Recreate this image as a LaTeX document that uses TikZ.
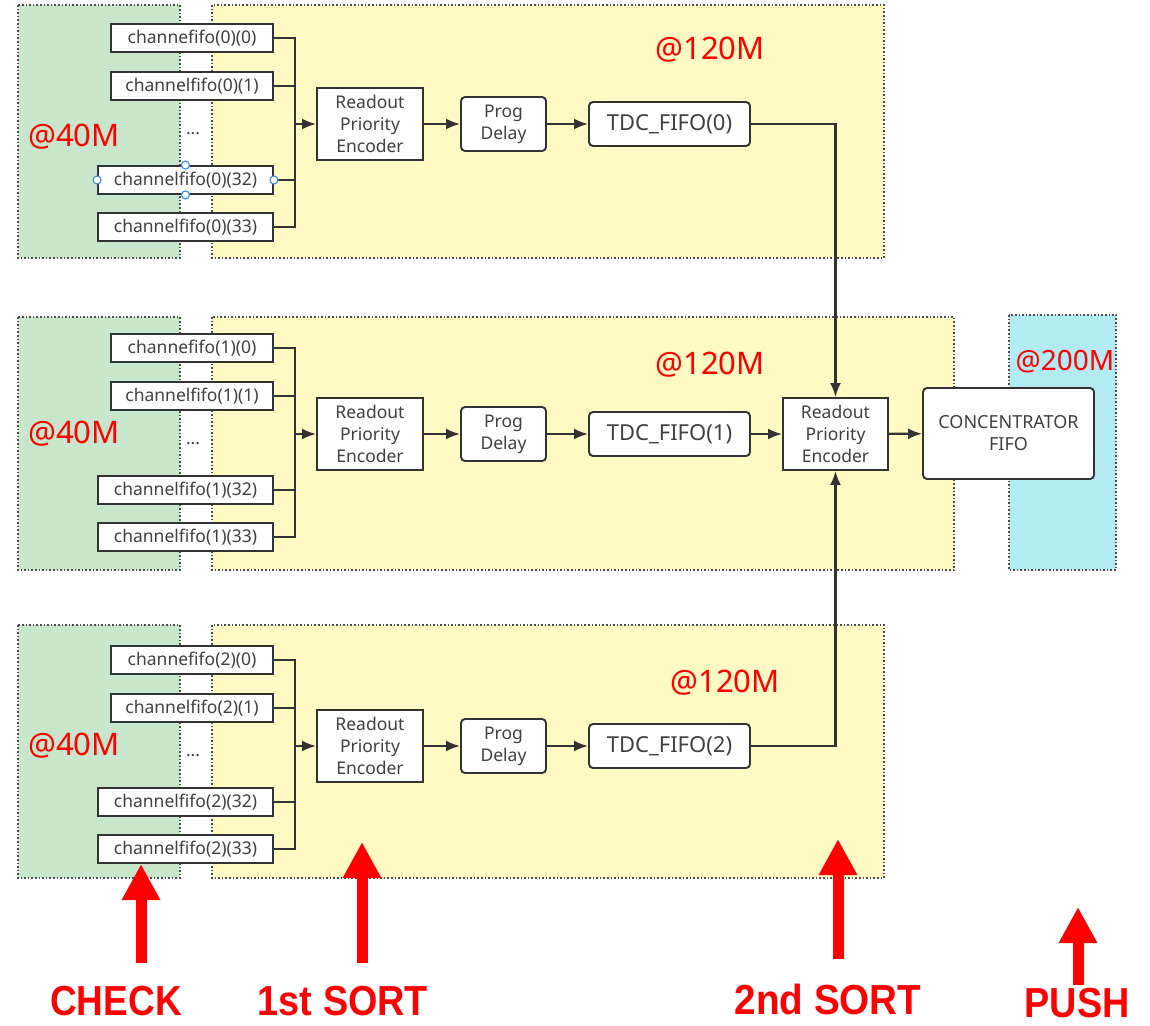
\documentclass[tikz,border=0pt]{standalone}
\usepackage{graphicx}
\usepackage{fontspec}
\setmainfont{Noto Sans}
\newfontfamily\redfont{Liberation Sans}
\usetikzlibrary{arrows.meta}
\definecolor{grn}{RGB}{200,230,203}
\definecolor{ylw}{RGB}{255,249,196}
\definecolor{cyn}{RGB}{178,235,242}
\definecolor{txt}{RGB}{64,64,64}
\definecolor{ln}{RGB}{51,51,51}
\definecolor{rd}{RGB}{255,0,0}
\definecolor{hdl}{RGB}{74,144,226}
\begin{document}
\begin{tikzpicture}[x=1pt,y=-1pt,
 zone/.style={draw=black!70, dotted, line width=1.6pt},
 chbox/.style={draw=ln, line width=1.9pt, fill=white, minimum height=28pt, inner sep=0pt, text=txt, font=\fontsize{17.5}{20}\selectfont},
 blk/.style={draw=ln, line width=1.9pt, fill=white, inner sep=0pt, text=txt, align=center, font=\fontsize{17.5}{22}\selectfont},
 rblk/.style={blk, rounded corners=4pt},
 conn/.style={draw=ln, line width=2.2pt},
 arr/.style={conn, -{Latex[length=14pt,width=11pt]}},
 freq/.style={text=rd, font=\fontsize{31}{31}\selectfont, inner sep=0pt},
 bigarr/.style={draw=rd, line width=11pt, -{Triangle[length=36pt,width=36pt]}},
 lbl/.style={text=rd, font=\redfont\bfseries\fontsize{42}{42}\selectfont, inner sep=0pt},
 handle/.style={circle, draw=hdl, fill=white, line width=1.2pt, minimum size=8pt, inner sep=0pt}
]
\useasboundingbox[fill=white] (0,0) rectangle (1150,1025);

% cyan zone
\filldraw[fill=cyn, zone] (1009,315) rectangle (1116,570);
\node[freq, font=\fontsize{28}{28}\selectfont] (f200) at (1065,362) {@200M};

\foreach \p/\c/\t/\b/\yr/\fx/\fy/\sy in {0/124/5/258/884/710/50/137, 1/434/317/570/954/710/365/434, 2/746/625/878/884/725/683/746} {
  \filldraw[fill=grn, zone] (18,\t) rectangle (180,\b);
  \filldraw[fill=ylw, zone] (212,\t) rectangle (\yr,\b);
  \node[freq] (s\p) at (74,\sy) {@40M};
  \node[freq] (f\p) at (\fx,\fy) {@120M};
  \node[chbox, minimum width=162pt] (c\p-0) at (192,{\c-86}) {channefifo(\p)(0)};
  \node[chbox, minimum width=162pt] (c\p-1) at (192,{\c-38}) {channelfifo(\p)(1)};
  \node[text=txt, anchor=base, inner sep=0pt, font=\fontsize{17}{20}\selectfont] (dots\p) at (193,{\c+10}) {...};
  \node[chbox, minimum width=175pt] (c\p-32) at (185.5,{\c+56}) {channelfifo(\p)(32)};
  \node[chbox, minimum width=175pt] (c\p-33) at (185.5,{\c+103}) {channelfifo(\p)(33)};
  \node[blk, minimum width=106pt, minimum height=72pt] (rpe\p) at (370,\c) {Readout\\Priority\\Encoder};
  \node[rblk, minimum width=85pt, minimum height=54pt] (pd\p) at (503.5,\c) {Prog\\Delay};
  \node[rblk, minimum width=161pt, minimum height=44pt, font=\fontsize{22}{24}\selectfont] (tdc\p) at (669.5,\c) {TDC\_FIFO(\p)};
  \coordinate (bus\p) at (295,\c);
  \draw[conn] (c\p-0.east) -| (bus\p) |- (c\p-33.east);
  \draw[conn] (c\p-1.east) -- (c\p-1.east -| bus\p);
  \draw[conn] (c\p-32.east) -- (c\p-32.east -| bus\p);
  \draw[arr] (bus\p) -- (rpe\p);
  \draw[arr] (rpe\p) -- (pd\p);
  \draw[arr] (pd\p) -- (tdc\p);
}

% selection handles
\node[handle] (h1) at (c0-32.west) {};
\node[handle] (h2) at (c0-32.east) {};
\node[handle] (h3) at (c0-32.north) {};
\node[handle] (h4) at (c0-32.south) {};

% second stage
\node[blk, minimum width=105pt, minimum height=72pt] (rpe) at (835.5,434) {Readout\\Priority\\Encoder};
\node[rblk, minimum width=171pt, minimum height=91pt, font=\fontsize{18}{22}\selectfont] (conc) at (1008.5,433.5) {CONCENTRATOR\\FIFO};
\draw[arr] (tdc0.east) -| (rpe.north);
\draw[arr] (tdc1) -- (rpe);
\draw[arr] (tdc2.east) -| (rpe.south);
\draw[arr] (rpe) -- (conc);

% red annotation arrows
\node[lbl] (check) at (116,1001) {\scalebox{0.88}[1]{CHECK}};
\node[lbl] (sort1) at (343,1001) {\scalebox{0.9}[1]{1st SORT}};
\node[lbl] (sort2) at (828,999) {\scalebox{0.92}[1]{2nd SORT}};
\node[lbl] (push) at (1077,1003) {\scalebox{0.9}[1]{PUSH}};
\coordinate (checkTip) at (141,864);
\coordinate (checkTail) at (141,963);
\coordinate (sort1Tip) at (362,842);
\coordinate (sort1Tail) at (362,963);
\coordinate (sort2Tip) at (838,839);
\coordinate (sort2Tail) at (838,959);
\coordinate (pushTip) at (1078,907);
\coordinate (pushTail) at (1078,985);
\draw[bigarr] (checkTail) -- (checkTip);
\draw[bigarr] (sort1Tail) -- (sort1Tip);
\draw[bigarr] (sort2Tail) -- (sort2Tip);
\draw[bigarr] (pushTail) -- (pushTip);
\end{tikzpicture}
\end{document}
